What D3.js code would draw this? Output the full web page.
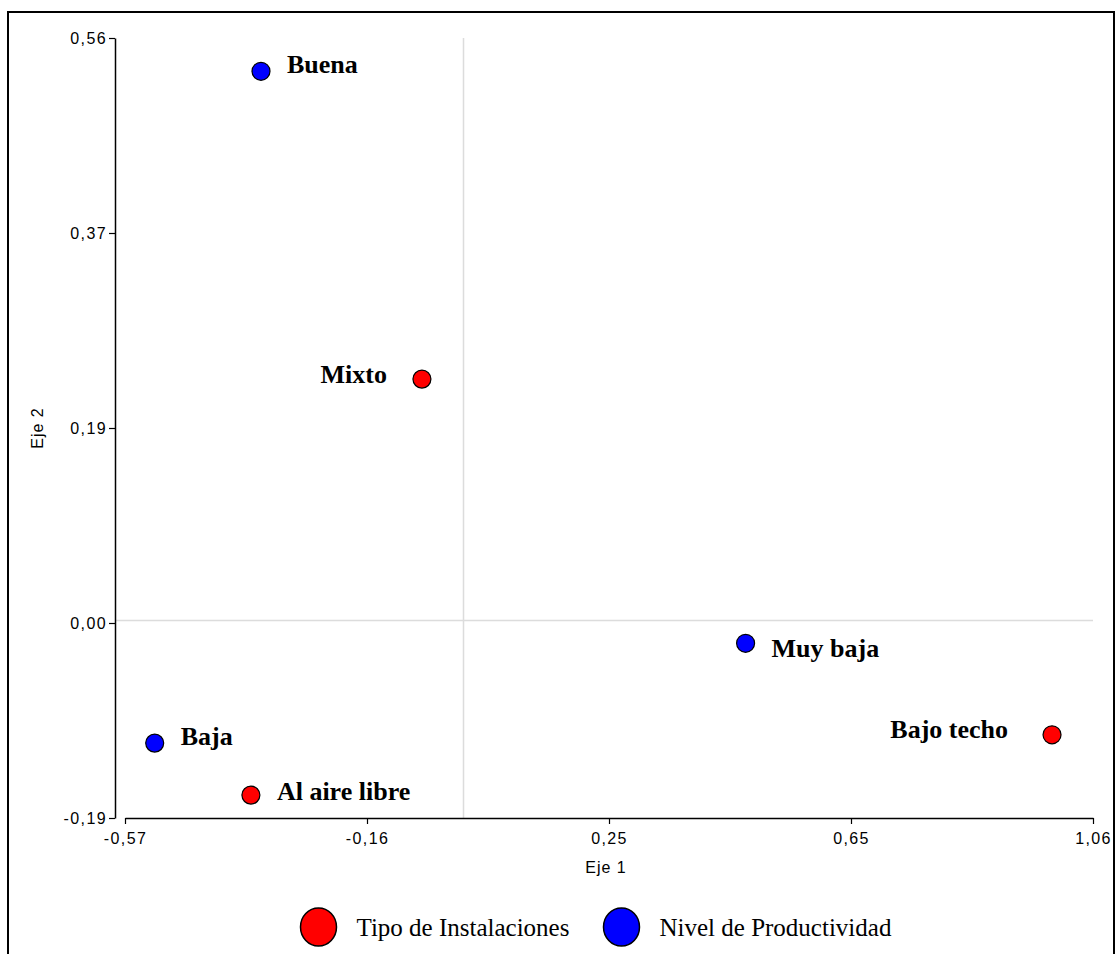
<!DOCTYPE html>
<html>
<head>
<meta charset="utf-8">
<script src="https://cdn.jsdelivr.net/npm/d3@7"></script>
<style>
  html, body { margin: 0; padding: 0; background: #fff; }
  svg { display: block; }
</style>
</head>
<body>
<svg id="chart" width="1116" height="954"></svg>
<script>
// ---- data ----
const categories = ["Buena", "Mixto", "Muy baja", "Bajo techo", "Baja", "Al aire libre"];
const groupOf    = ["Nivel de Productividad", "Tipo de Instalaciones", "Nivel de Productividad",
                    "Tipo de Instalaciones", "Nivel de Productividad", "Tipo de Instalaciones"];
const eje1 = [-0.341, -0.070, 0.475, 0.991, -0.520, -0.358];
const eje2 = [0.528, 0.232, -0.022, -0.110, -0.118, -0.168];
const labelSide = ["right", "left", "right", "left", "right", "right"];

const legendGroups = ["Tipo de Instalaciones", "Nivel de Productividad"];
const groupColors  = ["#ff0000", "#0000ff"];

const xTicks = [-0.57, -0.1625, 0.245, 0.6525, 1.06];
const xTickLabels = ["-0,57", "-0,16", "0,25", "0,65", "1,06"];
const yTicks = [-0.19, -0.0025, 0.185, 0.3725, 0.56];
const yTickLabels = ["-0,19", "0,00", "0,19", "0,37", "0,56"];
const xTitle = "Eje 1";
const yTitle = "Eje 2";

// ---- layout ----
const svg = d3.select("#chart");
const color = d3.scaleOrdinal().domain(legendGroups).range(groupColors);
const x = d3.scaleLinear().domain([-0.57, 1.06]).range([125, 1093]);
const y = d3.scaleLinear().domain([-0.19, 0.56]).range([818, 38]);
const yAxisX = 115;

// border
svg.append("rect")
  .attr("x", 8).attr("y", 12).attr("width", 1106).attr("height", 1000)
  .attr("fill", "none").attr("stroke", "#000").attr("stroke-width", 2);

// zero reference lines
svg.append("line")
  .attr("x1", x(0)).attr("x2", x(0)).attr("y1", y.range()[1]).attr("y2", y.range()[0])
  .attr("stroke", "#dcdcdc").attr("stroke-width", 1.5);
svg.append("line")
  .attr("x1", yAxisX).attr("x2", x.range()[1]).attr("y1", y(0)).attr("y2", y(0))
  .attr("stroke", "#dcdcdc").attr("stroke-width", 1.5);

// axes
const axisFont = "'Liberation Sans', Arial, sans-serif";
const gx = svg.append("g")
  .attr("transform", `translate(0,818)`)
  .call(d3.axisBottom(x).tickValues(xTicks).tickFormat((d, i) => xTickLabels[i])
        .tickSize(6).tickSizeOuter(0).tickPadding(9));
const gy = svg.append("g")
  .attr("transform", `translate(${yAxisX},0)`)
  .call(d3.axisLeft(y).tickValues(yTicks).tickFormat((d, i) => yTickLabels[i])
        .tickSize(6).tickSizeOuter(0).tickPadding(2));
[gx, gy].forEach(g => {
  g.select(".domain").attr("stroke", "#000").attr("stroke-width", 1.5);
  g.selectAll(".tick line").attr("stroke", "#000").attr("stroke-width", 1.2);
  g.selectAll(".tick text").attr("fill", "#000")
    .style("font-family", axisFont).style("font-size", "16px")
    .style("letter-spacing", "1.4px");
});

// axis titles
svg.append("text")
  .attr("x", 606).attr("y", 873)
  .attr("text-anchor", "middle")
  .style("font-family", axisFont).style("font-size", "16px").style("letter-spacing", "1px")
  .text(xTitle);
svg.append("text")
  .attr("transform", "translate(43,428) rotate(-90)")
  .attr("text-anchor", "middle")
  .style("font-family", axisFont).style("font-size", "16px").style("letter-spacing", "1px")
  .text(yTitle);

// points
const pts = categories.map((c, i) => ({ name: c, group: groupOf[i], x: eje1[i], y: eje2[i], side: labelSide[i] }));
const labelFont = "'Liberation Serif', 'Times New Roman', serif";
const leftLabelGap = { "Mixto": 35, "Bajo techo": 44 };
const labelShiftY = { "Buena": -3, "Mixto": -1, "Muy baja": 9, "Bajo techo": -2, "Baja": -3, "Al aire libre": 0 };

svg.append("g").selectAll("circle").data(pts).join("circle")
  .attr("cx", d => x(d.x)).attr("cy", d => y(d.y)).attr("r", 9)
  .attr("fill", d => color(d.group)).attr("stroke", "#000").attr("stroke-width", 1.2);

svg.append("g").selectAll("text").data(pts).join("text")
  .attr("x", d => x(d.x) + (d.side === "right" ? 26 : -(leftLabelGap[d.name] || 36)))
  .attr("y", d => y(d.y) + 5 + (labelShiftY[d.name] || 0))
  .attr("text-anchor", d => d.side === "right" ? "start" : "end")
  .style("font-family", labelFont).style("font-weight", "bold").style("font-size", "26px")
  .text(d => d.name);

// legend
const legendX = [318.5, 621.5];
const legendY = 927;
const lg = svg.append("g").selectAll("g").data(legendGroups).join("g")
  .attr("transform", (d, i) => `translate(${legendX[i]},${legendY})`);
lg.append("ellipse").attr("rx", 18).attr("ry", 19)
  .attr("fill", d => color(d)).attr("stroke", "#000").attr("stroke-width", 1.5);
lg.append("text")
  .attr("x", 38).attr("y", 9)
  .style("font-family", labelFont).style("font-size", "25px")
  .text(d => d);
</script>
</body>
</html>
